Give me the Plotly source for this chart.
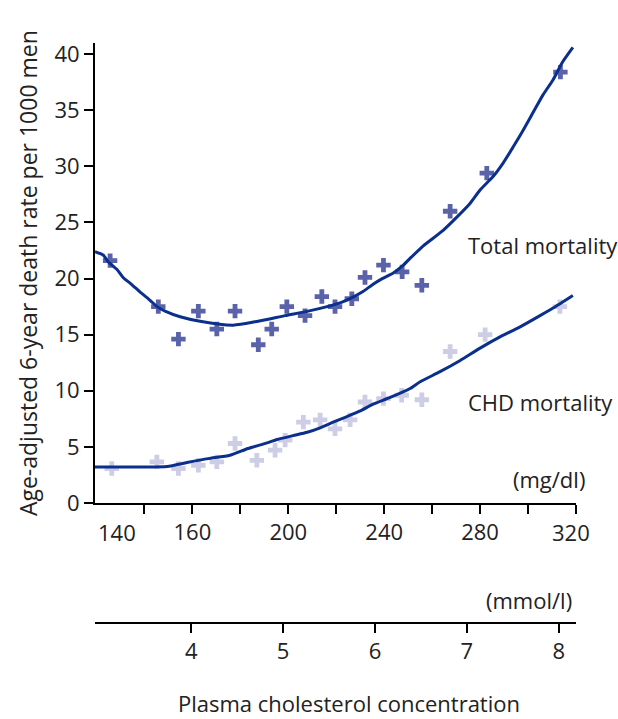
import plotly.graph_objects as go

# ---- data ----
chol_total = [125.7, 145.8, 154.2, 162.5, 170.2, 177.8, 187.5, 193.1, 199.4, 207.0,
              214.0, 219.5, 226.5, 232.0, 239.7, 247.5, 255.7, 267.5, 282.8, 313.5]
rate_total = [21.6, 17.5, 14.6, 17.1, 15.5, 17.1, 14.1, 15.5, 17.5, 16.7,
              18.4, 17.5, 18.2, 20.1, 21.2, 20.6, 19.4, 26.0, 29.4, 38.4]

chol_chd = [126.4, 145.2, 154.2, 162.5, 170.2, 177.8, 186.9, 194.5, 198.7, 206.3,
            213.3, 219.5, 225.8, 232.0, 239.7, 247.3, 255.7, 267.5, 282.1, 313.3]
rate_chd = [3.07, 3.66, 3.07, 3.36, 3.66, 5.3, 3.8, 4.7, 5.6, 7.2,
            7.4, 6.6, 7.4, 9.0, 9.3, 9.6, 9.2, 13.5, 15.0, 17.5]

fit_total_x = [119.4, 122.8, 124.9, 128.6, 131.1, 134.0, 138.2, 141.1, 143.2, 145.3,
               148.6, 154.9, 163.2, 177.0, 187.4, 198.7, 208.3, 216.2, 222.4, 226.6,
               230.8, 235.4, 239.2, 243.8, 247.5, 250.8, 256.2, 264.6, 270.4, 275.8,
               280.0, 285.4, 289.6, 293.7, 297.9, 302.1, 306.3, 310.4, 314.1, 318.7]
fit_total_y = [22.4, 22.1, 21.5, 20.8, 20.1, 19.6, 18.8, 18.3, 17.9, 17.5,
               17.1, 16.6, 16.2, 15.85, 16.2, 16.7, 17.1, 17.5, 17.9, 18.3,
               18.8, 19.5, 20.0, 20.5, 21.1, 21.8, 22.9, 24.3, 25.5, 26.7,
               27.9, 29.1, 30.3, 31.7, 33.2, 34.8, 36.4, 37.7, 39.2, 40.6]

fit_chd_x = [119.4, 139.5, 149.5, 157.8, 166.6, 175.7, 183.2, 191.2, 195.3, 202.0,
             207.9, 213.3, 218.7, 224.5, 230.0, 235.4, 242.5, 250.8, 255.0, 263.3,
             271.7, 280.0, 288.3, 296.7, 305.0, 310.6, 318.7]
fit_chd_y = [3.2, 3.2, 3.25, 3.6, 3.95, 4.25, 4.85, 5.35, 5.65, 6.0,
             6.3, 6.7, 7.2, 7.7, 8.2, 8.8, 9.4, 10.2, 10.8, 11.7,
             12.7, 13.8, 14.8, 15.7, 16.7, 17.4, 18.5]

mgdl_ticks = [140, 160, 180, 200, 220, 240, 260, 280, 300, 320]
mgdl_labels = ["", "160", "", "200", "", "240", "", "280", "", ""]
mmol_ticks = [4, 5, 6, 7, 8]
y_ticks = [0, 5, 10, 15, 20, 25, 30, 35, 40]

FONT = "Open Sans"
TXT = "#222222"
LINE = "#0b2f8c"
FS = 22

fig = go.Figure()
fig.add_trace(go.Scatter(x=chol_total, y=rate_total, mode="markers",
                         marker=dict(symbol="cross", size=12, color="#5a62aa",
                                     line=dict(width=0)),
                         showlegend=False, hoverinfo="skip"))
fig.add_trace(go.Scatter(x=chol_chd, y=rate_chd, mode="markers",
                         marker=dict(symbol="cross", size=12, color="#cdcde6",
                                     line=dict(width=0)),
                         showlegend=False, hoverinfo="skip"))
fig.add_trace(go.Scatter(x=fit_total_x, y=fit_total_y, mode="lines",
                         line=dict(color=LINE, width=3, shape="spline", smoothing=0.6),
                         showlegend=False, hoverinfo="skip"))
fig.add_trace(go.Scatter(x=fit_chd_x, y=fit_chd_y, mode="lines",
                         line=dict(color=LINE, width=3, shape="spline", smoothing=0.6),
                         showlegend=False, hoverinfo="skip"))
# dummy trace to materialise the mmol/l axis
fig.add_trace(go.Scatter(x=[None], y=[None], xaxis="x2", yaxis="y",
                         showlegend=False, hoverinfo="skip"))

FIG_W, FIG_H = 618, 719
X0, X1 = 92, 576            # plot area left/right (px)
Y_TOP, Y_BOT = 43, 622.7    # plot area top/bottom (px)
Y_ZERO = 502.7              # y = 0 line (px)

L = X0
R = FIG_W - X1
T = Y_TOP
B = FIG_H - Y_BOT
W = X1 - X0
H = Y_BOT - Y_TOP


def px(xs):
    return (xs - X0) / W


def py(ys):
    return (Y_BOT - ys) / H


tick_common = dict(showline=True, linecolor="black", linewidth=2,
                   ticks="outside", ticklen=9, tickwidth=2, tickcolor="black",
                   showgrid=False, zeroline=False,
                   tickfont=dict(family=FONT, size=FS, color=TXT))

fig.update_layout(
    width=FIG_W, height=FIG_H,
    margin=dict(l=L, r=R, t=T, b=B, pad=0, autoexpand=False),
    paper_bgcolor="white", plot_bgcolor="white",
    font=dict(family=FONT, size=FS, color=TXT),
    xaxis=dict(domain=[px(95), 1], range=[119.4, 320], anchor="y",
               tickmode="array", tickvals=mgdl_ticks, ticktext=mgdl_labels,
               **tick_common),
    yaxis=dict(domain=[py(Y_ZERO), 1], range=[0, 41], anchor="x",
               tickmode="array", tickvals=y_ticks, **tick_common),
    xaxis2=dict(domain=[0, px(573)], range=[2.953, 8.187],
                anchor="free", position=0, overlaying="x",
                tickmode="array", tickvals=mmol_ticks, side="bottom",
                **tick_common),
)

ann = [
    dict(text="140", x=px(117), y=py(Y_ZERO + 12), yanchor="top"),
    dict(text="320", x=px(571), y=py(Y_ZERO + 12), yanchor="top"),
    dict(text="Total mortality", x=px(466), y=py(245), xanchor="left"),
    dict(text="CHD mortality", x=px(466), y=py(402), xanchor="left"),
    dict(text="(mg/dl)", x=px(587), y=py(479), xanchor="right"),
    dict(text="(mmol/l)", x=px(574), y=py(600), xanchor="right"),
    dict(text="Plasma cholesterol concentration", x=px(349), y=py(703)),
    dict(text="Age-adjusted 6-year death rate per 1000 men", textangle=-90,
         x=px(28), y=py(273), font=dict(family=FONT, size=23, color=TXT)),
]
for a in ann:
    a.setdefault("xanchor", "center")
    a.setdefault("yanchor", "middle")
    a.setdefault("font", dict(family=FONT, size=FS, color=TXT))
    a.update(xref="paper", yref="paper", showarrow=False)
fig.update_layout(annotations=ann)

fig.write_html("out.html",
               config={"displayModeBar": False},
               post_script="document.body.style.margin='0';"
                           "document.body.style.overflow='hidden';")
